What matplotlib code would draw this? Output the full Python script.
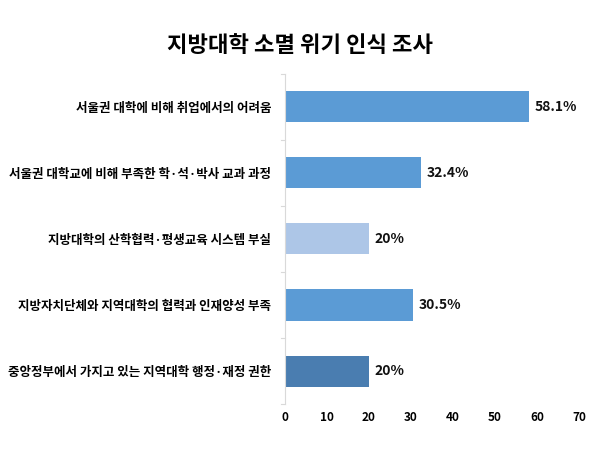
import matplotlib
matplotlib.use('Agg')
import matplotlib.pyplot as plt

plt.rcParams['font.family'] = ['Noto Sans CJK KR', 'DejaVu Sans']

# data, top to bottom as in the picture
categories = ['서울권 대학에 비해 취업에서의 어려움',
              '서울권 대학교에 비해 부족한 학·석·박사 교과 과정',
              '지방대학의 산학협력·평생교육 시스템 부실',
              '지방자치단체와 지역대학의 협력과 인재양성 부족',
              '중앙정부에서 가지고 있는 지역대학 행정·재정 권한']
values = [58.1, 32.4, 20, 30.5, 20]
value_labels = ['58.1%', '32.4%', '20%', '30.5%', '20%']
colors = ['#5B9BD5', '#5B9BD5', '#ADC6E7', '#5B9BD5', '#4A7DB0']

fig = plt.figure(figsize=(6, 4.5), dpi=100)
ax = fig.add_axes([0.475, 0.102, 0.49, 0.734])

pos = list(range(len(categories)))[::-1]
ax.barh(pos, values, height=0.47, color=colors)
for p, v, lab in zip(pos, values, value_labels):
    ax.text(v + 1.4, p, lab, va='center', ha='left', fontsize=10,
            fontweight='bold', color='#111111')

ax.set_xlim(0, 70)
ax.set_ylim(-0.5, len(categories) - 0.5)
ax.set_xticks(range(0, 71, 10))
ax.set_yticks(pos)
ax.set_yticklabels(categories, fontsize=9, fontweight='bold')
ax.tick_params(axis='y', length=0, pad=10)
ax.tick_params(axis='x', length=0, labelsize=8.5, pad=5)
for lab in ax.get_xticklabels():
    lab.set_fontweight('bold')

# small tick marks between categories on the left spine
for b in [i - 0.5 for i in range(len(categories) + 1)]:
    ax.plot([-0.012, 0], [b, b], transform=ax.get_yaxis_transform(),
            color='#D9D9D9', lw=0.8, clip_on=False)

for s in ['top', 'right', 'bottom']:
    ax.spines[s].set_visible(False)
ax.spines['left'].set_color('#D9D9D9')

fig.suptitle('지방대학 소멸 위기 인식 조사', y=0.925, fontsize=16, fontweight='bold')

fig.savefig('out.png', dpi=100)
